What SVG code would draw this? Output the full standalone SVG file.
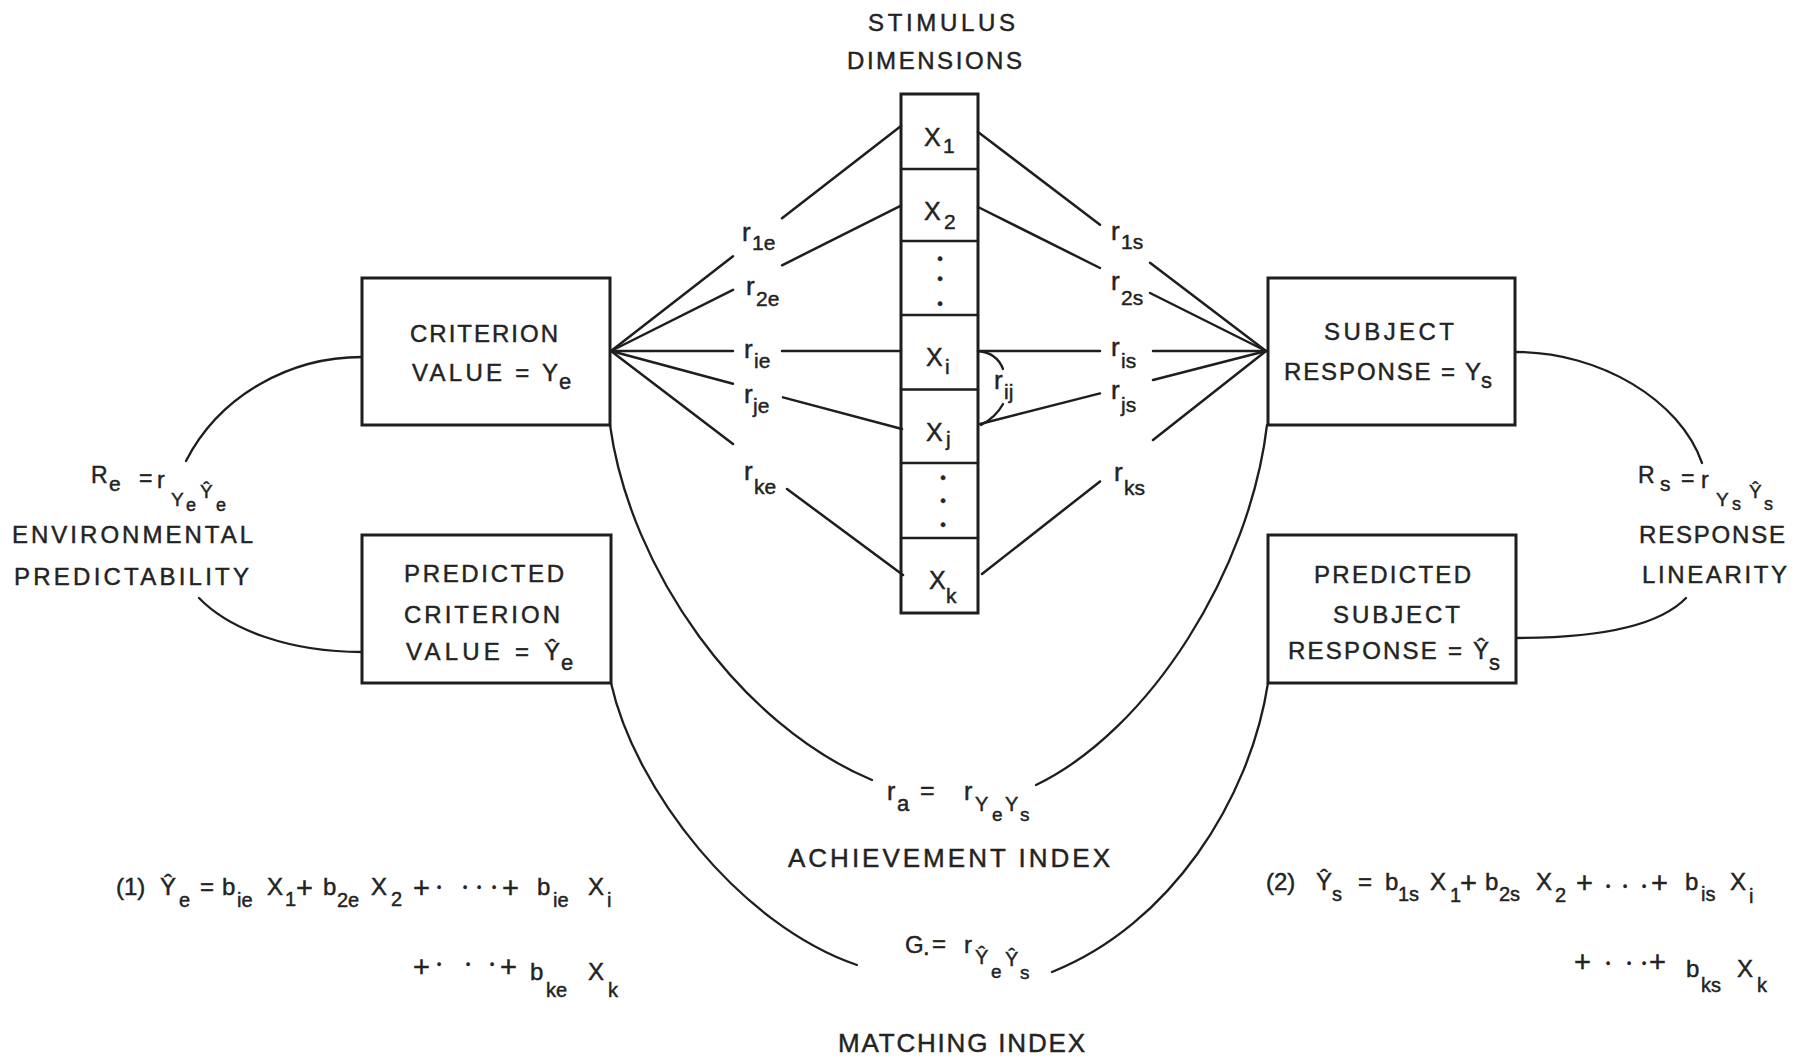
<svg xmlns="http://www.w3.org/2000/svg" width="1802" height="1061" viewBox="0 0 1802 1061">
<style>
.t{font-family:"Liberation Sans",Arial,sans-serif;fill:#232323;stroke:#232323;stroke-width:0.45}
.lbl{font-size:24px}
.big{font-size:26px}
.box{fill:none;stroke:#1e1e1e;stroke-width:3}
.ln{fill:none;stroke:#1e1e1e;stroke-width:2.5;stroke-linecap:round}
.arc{fill:none;stroke:#1e1e1e;stroke-width:2.3;stroke-linecap:round}
.r{font-size:26px}
.s{font-size:21px}
.x{font-size:25px}
.eq{font-size:24px}
.es{font-size:20px}
.pl{font-size:29px}
.dt{font-size:12px}
</style>
<rect width="1802" height="1061" fill="#ffffff"/>

<g id="connectors">
  <path class="ln" d="M611,351 L733,256.3 M782,218.3 L901,126"/>
  <path class="ln" d="M611,351 L733,289.8 M782,265.3 L901,205.6"/>
  <path class="ln" d="M611,351 L733,351 M782,351 L901,351"/>
  <path class="ln" d="M611,351 L733,383.7 M783,397.4 L902,429"/>
  <path class="ln" d="M611,351 L733,444 M787,489 L903,575"/>
  <path class="ln" d="M978,132 L1100,224.8 M1150,262.8 L1266,351"/>
  <path class="ln" d="M978,207 L1100,268 M1150,293 L1266,351"/>
  <path class="ln" d="M978,351 L1100,351 M1153,351 L1266,351"/>
  <path class="ln" d="M980,424 L1100,393.4 M1153,380 L1266,351"/>
  <path class="ln" d="M982,574 L1100,481.4 M1153,440 L1266,351"/>
  <path class="arc" d="M978,351 Q997,353 1003,369"/>
  <path class="arc" d="M981,425 Q996,417 1003,404"/>
  <path class="arc" d="M362,357 C290,357 220,395 186,461"/>
  <path class="arc" d="M199,598 C230,630 290,652 362,652"/>
  <path class="arc" d="M1516,352 C1600,352 1680,400 1702,463"/>
  <path class="arc" d="M1686,598 C1660,625 1600,638 1516,638"/>
  <path class="arc" d="M610,425 C630,570 740,725 872,780"/>
  <path class="arc" d="M1267,425 C1250,570 1150,730 1036,785"/>
  <path class="arc" d="M611,683 C635,790 740,925 857,965"/>
  <path class="arc" d="M1268,683 C1250,800 1170,925 1052,972"/>
</g>

<g id="stimulus-dimensions">
  <text class="t lbl" x="868" y="31" textLength="147" lengthAdjust="spacing">STIMULUS</text>
  <text class="t lbl" x="847" y="69" textLength="175" lengthAdjust="spacing">DIMENSIONS</text>
  <rect class="box" x="901" y="94" width="77" height="519"/>
  <path class="ln" d="M901,169 H978 M901,241 H978 M901,315 H978 M901,389.5 H978 M901,463 H978 M901,538 H978"/>
  <text class="t x"><tspan x="924" y="146">X</tspan><tspan class="s" x="943" y="153">1</tspan></text>
  <text class="t x"><tspan x="924" y="220">X</tspan><tspan class="s" x="944" y="229">2</tspan></text>
  <text class="t" font-size="16" text-anchor="middle"><tspan x="940" y="264">•</tspan><tspan x="940" y="284">•</tspan><tspan x="940" y="309">•</tspan></text>
  <text class="t x"><tspan x="926" y="366">X</tspan><tspan class="s" x="945" y="374">i</tspan></text>
  <text class="t x"><tspan x="926" y="441">X</tspan><tspan class="s" x="946" y="446">j</tspan></text>
  <text class="t" font-size="16" text-anchor="middle"><tspan x="943" y="483">•</tspan><tspan x="943" y="506">•</tspan><tspan x="943" y="530">•</tspan></text>
  <text class="t x"><tspan x="929" y="589">X</tspan><tspan class="s" x="946" y="603">k</tspan></text>
</g>

<g id="cue-labels">
  <text class="t r"><tspan x="742" y="241">r</tspan><tspan class="s" x="752" y="250">1e</tspan></text>
  <text class="t r"><tspan x="746" y="295">r</tspan><tspan class="s" x="756" y="306">2e</tspan></text>
  <text class="t r"><tspan x="744" y="358">r</tspan><tspan class="s" x="754" y="368">ie</tspan></text>
  <text class="t r"><tspan x="744" y="403">r</tspan><tspan class="s" x="753" y="413">je</tspan></text>
  <text class="t r"><tspan x="744" y="480">r</tspan><tspan class="s" x="754" y="494">ke</tspan></text>
  <text class="t r"><tspan x="1111" y="240">r</tspan><tspan class="s" x="1121" y="249">1s</tspan></text>
  <text class="t r"><tspan x="1111" y="290">r</tspan><tspan class="s" x="1121" y="305">2s</tspan></text>
  <text class="t r"><tspan x="1111" y="356">r</tspan><tspan class="s" x="1121" y="368">is</tspan></text>
  <text class="t r"><tspan x="1111" y="399">r</tspan><tspan class="s" x="1121" y="412">js</tspan></text>
  <text class="t r"><tspan x="1114" y="481">r</tspan><tspan class="s" x="1124" y="495">ks</tspan></text>
  <text class="t r"><tspan x="994" y="389">r</tspan><tspan class="s" x="1004" y="399">ij</tspan></text>
</g>

<g id="node-criterion">
  <rect class="box" x="362" y="278" width="248" height="147"/>
  <text class="t lbl" x="410" y="342" textLength="148" lengthAdjust="spacing">CRITERION</text>
  <text class="t lbl" x="412" y="381" textLength="146" lengthAdjust="spacing">VALUE = Y</text>
  <text class="t" font-size="22" x="559" y="389">e</text>
</g>

<g id="node-predicted-criterion">
  <rect class="box" x="362" y="535" width="249" height="148"/>
  <text class="t lbl" x="404" y="582" textLength="160" lengthAdjust="spacing">PREDICTED</text>
  <text class="t lbl" x="404" y="623" textLength="156" lengthAdjust="spacing">CRITERION</text>
  <text class="t lbl" x="406" y="660" textLength="154" lengthAdjust="spacing">VALUE = Ŷ</text>
  <text class="t" font-size="22" x="561" y="670">e</text>
</g>

<g id="node-subject">
  <rect class="box" x="1268" y="278" width="247" height="147"/>
  <text class="t lbl" x="1324" y="340" textLength="130" lengthAdjust="spacing">SUBJECT</text>
  <text class="t lbl" x="1284" y="380" textLength="197" lengthAdjust="spacing">RESPONSE = Y</text>
  <text class="t" font-size="22" x="1481" y="388">s</text>
</g>

<g id="node-predicted-subject">
  <rect class="box" x="1268" y="535" width="248" height="148"/>
  <text class="t lbl" x="1314" y="583" textLength="157" lengthAdjust="spacing">PREDICTED</text>
  <text class="t lbl" x="1333" y="623" textLength="127" lengthAdjust="spacing">SUBJECT</text>
  <text class="t lbl" x="1288" y="659" textLength="201" lengthAdjust="spacing">RESPONSE = Ŷ</text>
  <text class="t" font-size="22" x="1489" y="670">s</text>
</g>

<g id="label-environmental">
  <text class="t" font-size="23"><tspan x="91" y="483">R</tspan><tspan x="109" y="491" font-size="21">e</tspan><tspan x="139" y="486">=</tspan><tspan x="157" y="488">r</tspan><tspan x="171" y="506" font-size="19">Y</tspan><tspan x="186" y="511" font-size="18">e</tspan><tspan x="200" y="498" font-size="19">Ŷ</tspan><tspan x="216" y="511" font-size="18">e</tspan></text>
  <text class="t lbl" x="12" y="543" textLength="241" lengthAdjust="spacing">ENVIRONMENTAL</text>
  <text class="t lbl" x="14" y="585" textLength="235" lengthAdjust="spacing">PREDICTABILITY</text>
</g>

<g id="label-response">
  <text class="t" font-size="23"><tspan x="1638" y="483">R</tspan><tspan x="1660" y="491" font-size="21">s</tspan><tspan x="1681" y="486">=</tspan><tspan x="1701" y="488">r</tspan><tspan x="1716" y="506" font-size="19">Y</tspan><tspan x="1732" y="510" font-size="18">s</tspan><tspan x="1749" y="498" font-size="19">Ŷ</tspan><tspan x="1764" y="510" font-size="18">s</tspan></text>
  <text class="t lbl" x="1639" y="543" textLength="146" lengthAdjust="spacing">RESPONSE</text>
  <text class="t lbl" x="1642" y="583" textLength="145" lengthAdjust="spacing">LINEARITY</text>
</g>

<g id="label-achievement">
  <text class="t" font-size="25"><tspan x="887" y="800">r</tspan><tspan x="897" y="811" font-size="22">a</tspan><tspan x="920" y="799">=</tspan><tspan x="964" y="800">r</tspan><tspan x="975" y="811" font-size="20">Y</tspan><tspan x="992" y="821" font-size="19">e</tspan><tspan x="1005" y="811" font-size="20">Y</tspan><tspan x="1020" y="821" font-size="19">s</tspan></text>
  <text class="t big" x="788" y="867" textLength="322" lengthAdjust="spacing">ACHIEVEMENT  INDEX</text>
</g>

<g id="label-matching">
  <text class="t" font-size="24"><tspan x="905" y="953">G</tspan><tspan x="923" y="955">.</tspan><tspan x="932" y="952">=</tspan><tspan x="964" y="953">r</tspan><tspan x="975" y="964" font-size="20">Ŷ</tspan><tspan x="991" y="978" font-size="19">e</tspan><tspan x="1005" y="966" font-size="20">Ŷ</tspan><tspan x="1020" y="979" font-size="19">s</tspan></text>
  <text class="t big" x="838" y="1052" textLength="247" lengthAdjust="spacing">MATCHING  INDEX</text>
</g>

<g id="equation-1">
  <text class="t eq"><tspan x="116" y="895">(1)</tspan><tspan x="160" y="895">Ŷ</tspan><tspan class="es" x="179" y="907">e</tspan><tspan x="200" y="895">=</tspan><tspan x="222" y="895">b</tspan><tspan class="es" x="237" y="907">ie</tspan><tspan x="267" y="895">X</tspan><tspan class="es" x="285" y="906">1</tspan><tspan class="pl" x="296" y="898">+</tspan><tspan x="323" y="895">b</tspan><tspan class="es" x="337" y="907">2e</tspan><tspan x="371" y="895">X</tspan><tspan class="es" x="391" y="906">2</tspan><tspan class="pl" x="413" y="898">+</tspan><tspan class="dt" x="437" y="892">•</tspan><tspan class="dt" x="463" y="892">•</tspan><tspan class="dt" x="477" y="892">•</tspan><tspan class="dt" x="492" y="892">•</tspan><tspan class="pl" x="502" y="898">+</tspan><tspan x="537" y="895">b</tspan><tspan class="es" x="553" y="907">ie</tspan><tspan x="588" y="895">X</tspan><tspan class="es" x="607" y="907">i</tspan></text>
  <text class="t eq"><tspan class="pl" x="413" y="977">+</tspan><tspan class="dt" x="437" y="969">•</tspan><tspan class="dt" x="466" y="969">•</tspan><tspan class="dt" x="490" y="969">•</tspan><tspan class="pl" x="500" y="977">+</tspan><tspan x="530" y="980">b</tspan><tspan class="es" x="546" y="997">ke</tspan><tspan x="588" y="980">X</tspan><tspan class="es" x="608" y="997">k</tspan></text>
</g>

<g id="equation-2">
  <text class="t eq"><tspan x="1266" y="890">(2)</tspan><tspan x="1316" y="890">Ŷ</tspan><tspan class="es" x="1332" y="901">s</tspan><tspan x="1358" y="890">=</tspan><tspan x="1385" y="890">b</tspan><tspan class="es" x="1398" y="901">1s</tspan><tspan x="1430" y="890">X</tspan><tspan class="es" x="1450" y="902">1</tspan><tspan class="pl" x="1460" y="893">+</tspan><tspan x="1485" y="890">b</tspan><tspan class="es" x="1499" y="901">2s</tspan><tspan x="1536" y="890">X</tspan><tspan class="es" x="1555" y="902">2</tspan><tspan class="pl" x="1576" y="893">+</tspan><tspan class="dt" x="1606" y="891">•</tspan><tspan class="dt" x="1623" y="891">•</tspan><tspan class="dt" x="1642" y="891">•</tspan><tspan class="pl" x="1651" y="893">+</tspan><tspan x="1685" y="890">b</tspan><tspan class="es" x="1701" y="901">is</tspan><tspan x="1730" y="890">X</tspan><tspan class="es" x="1749" y="903">i</tspan></text>
  <text class="t eq"><tspan class="pl" x="1574" y="972">+</tspan><tspan class="dt" x="1606" y="968">•</tspan><tspan class="dt" x="1627" y="968">•</tspan><tspan class="dt" x="1642" y="968">•</tspan><tspan class="pl" x="1649" y="972">+</tspan><tspan x="1686" y="977">b</tspan><tspan class="es" x="1701" y="992">ks</tspan><tspan x="1737" y="977">X</tspan><tspan class="es" x="1757" y="992">k</tspan></text>
</g>
</svg>
